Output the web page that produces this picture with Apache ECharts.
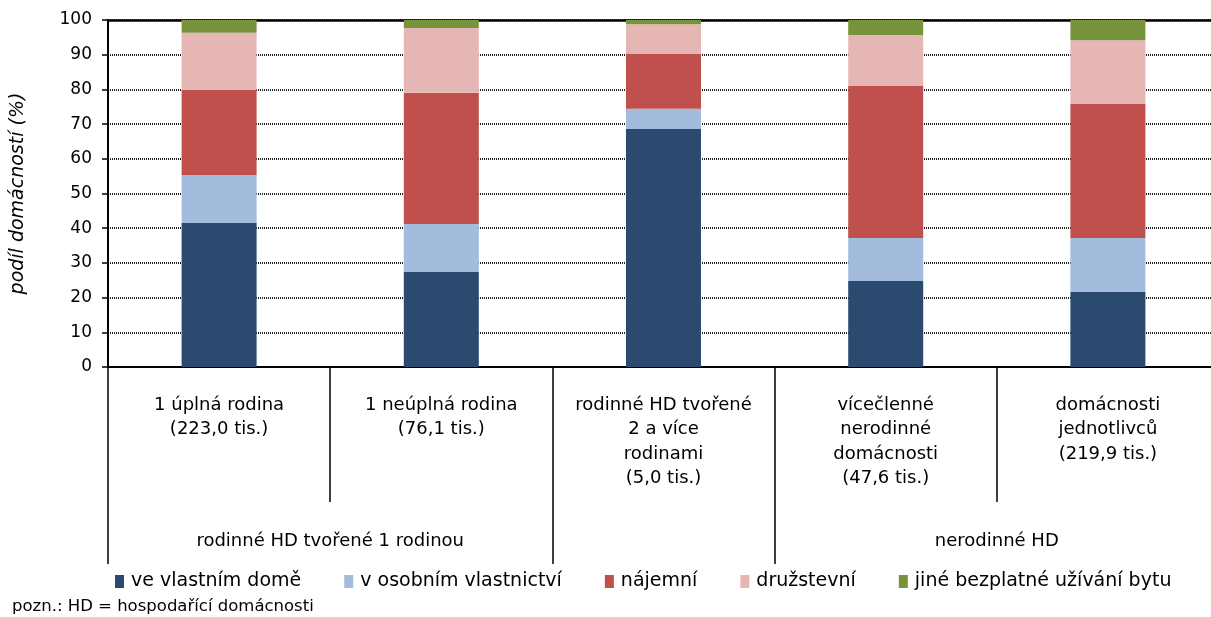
<!DOCTYPE html>
<html>
<head>
<meta charset="utf-8">
<script src="https://cdn.jsdelivr.net/npm/echarts@6/dist/echarts.min.js"></script>
<style>html,body{margin:0;padding:0;background:#fff}#c{width:1211px;height:617px}</style>
</head>
<body>
<div id="c"></div>
<script>
const categories = [
  "1 úplná rodina\n(223,0 tis.)",
  "1 neúplná rodina\n(76,1 tis.)",
  "rodinné HD tvořené\n2 a více\nrodinami\n(5,0 tis.)",
  "vícečlenné\nnerodinné\ndomácnosti\n(47,6 tis.)",
  "domácnosti\njednotlivců\n(219,9 tis.)"
];
const groupNames = ["rodinné HD tvořené 1 rodinou", "nerodinné HD"];
const groupCenters = [1, 4];
const groupBounds = [0, 2, 3];
const seriesNames = ["ve vlastním domě", "v osobním vlastnictví", "nájemní", "družstevní", "jiné bezplatné užívání bytu"];
const vlastniDum = [41.5, 27.4, 68.6, 24.8, 21.6];
const osobniVlast = [13.8, 13.8, 5.8, 12.4, 15.6];
const najemni = [24.5, 37.8, 15.8, 43.8, 38.6];
const druzstevni = [16.5, 18.7, 8.6, 14.7, 18.4];
const jine = [3.7, 2.3, 1.2, 4.3, 5.8];
const yTicks = [0, 10, 20, 30, 40, 50, 60, 70, 80, 90, 100];
const colors = ["#2B4A6F", "#A3BBDC", "#C0504D", "#E6B6B5", "#77933C"];
const footnote = "pozn.: HD = hospodařící domácnosti";

const FONT = "DejaVu Sans";
const allData = [vlastniDum, osobniVlast, najemni, druzstevni, jine];

const chart = echarts.init(document.getElementById('c'), null, {renderer: 'canvas'});
chart.setOption({
  animation: false,
  color: colors,
  textStyle: {fontFamily: FONT, color: '#000'},
  title: {
    text: footnote, left: 7, top: 593,
    textStyle: {fontFamily: FONT, fontSize: 16.5, fontWeight: 'normal', color: '#000'}
  },
  legend: {
    left: 110, top: 567, itemWidth: 9, itemHeight: 13, itemGap: 43,
    icon: 'rect',
    textStyle: {fontFamily: FONT, fontSize: 19, color: '#000', padding: [0, 0, 0, 2]},
    data: seriesNames
  },
  grid: {left: 108, width: 1111, top: 20, bottom: 250, containLabel: false, outerBoundsMode: 'none'},
  xAxis: [
    {
      type: 'category', data: categories, position: 'bottom',
      axisLine: {show: true, lineStyle: {color: '#000', width: 2}},
      axisTick: {show: true, interval: 0, length: 135, lineStyle: {color: '#000', width: 1.5}},
      axisLabel: {interval: 0, margin: 26, fontSize: 18, lineHeight: 24.5, color: '#000', fontFamily: FONT},
      splitLine: {show: false}
    },
    {
      type: 'value', min: 0, max: 5, position: 'bottom',
      axisLine: {show: false},
      axisTick: {show: true, customValues: groupBounds, length: 197, lineStyle: {color: '#000', width: 1.5}},
      axisLabel: {
        show: true, customValues: groupCenters, margin: 165, fontSize: 18, color: '#000', fontFamily: FONT,
        formatter: function (v) { return groupNames[groupCenters.indexOf(v)] || ''; }
      },
      splitLine: {show: false}
    },
    {
      type: 'category', data: categories, position: 'top',
      axisLine: {show: true, lineStyle: {color: '#000', width: 2.5}},
      axisTick: {show: false}, axisLabel: {show: false}, splitLine: {show: false}
    }
  ],
  yAxis: {
    type: 'value', min: 0, max: 100, interval: 10,
    name: 'podíl domácností (%)', nameLocation: 'middle', nameGap: 80, nameRotate: 90,
    nameTextStyle: {fontFamily: FONT, fontStyle: 'italic', fontSize: 19, color: '#000'},
    axisLine: {show: true, lineStyle: {color: '#000', width: 2}},
    axisTick: {show: true, length: 6, lineStyle: {color: '#000', width: 1.5}},
    axisLabel: {fontSize: 17, color: '#000', margin: 16, fontFamily: FONT,
      customValues: yTicks},
    splitLine: {show: true, lineStyle: {color: '#222', width: 2, type: [1, 1]}}
  },
  series: allData.map((d, i) => ({
    name: seriesNames[i], type: 'bar', stack: 'total', data: d,
    barWidth: 75, xAxisIndex: 0,
    itemStyle: {color: colors[i]},
    emphasis: {disabled: true}
  }))
});
</script>
</body>
</html>
